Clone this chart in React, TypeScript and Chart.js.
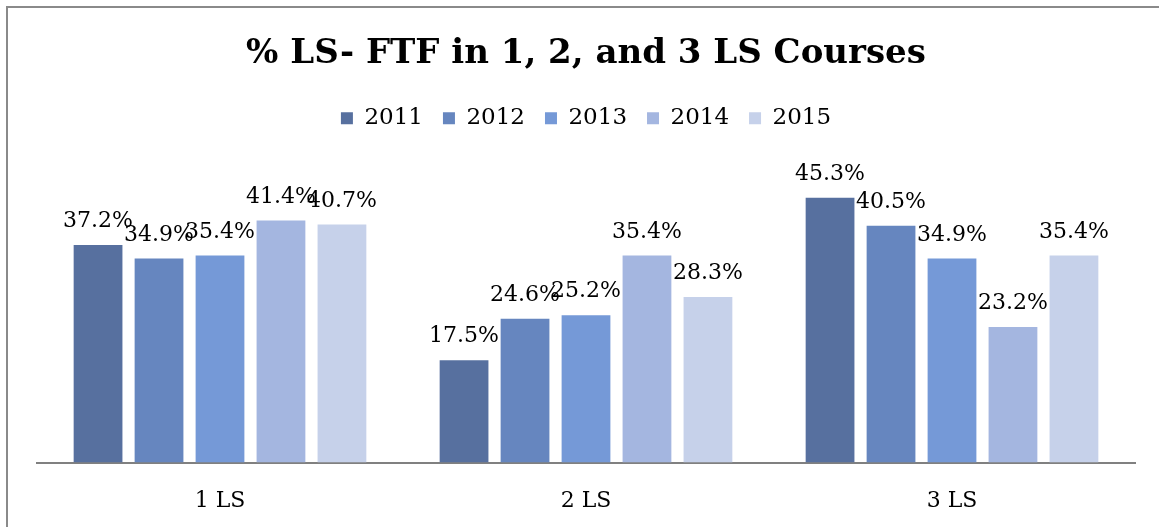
import React, { useEffect, useRef } from "react";
import { Chart, registerables } from "chart.js";

Chart.register(...registerables);

const categories = ["1 LS", "2 LS", "3 LS"];
const years = ["2011", "2012", "2013", "2014", "2015"];
const values2011 = [37.2, 17.5, 45.3];
const values2012 = [34.9, 24.6, 40.5];
const values2013 = [35.4, 25.2, 34.9];
const values2014 = [41.4, 35.4, 23.2];
const values2015 = [40.7, 28.3, 35.4];
const seriesValues = [values2011, values2012, values2013, values2014, values2015];
const colors = ["#57709f", "#6686bf", "#7599d7", "#a4b6e0", "#c6d1ea"];

const FONT = "'DejaVu Serif', serif";

const borderPlugin = {
  id: "frameBorder",
  beforeDraw(chart: any) {
    const { ctx } = chart;
    ctx.save();
    ctx.strokeStyle = "#8a8a8a";
    ctx.lineWidth = 2;
    ctx.strokeRect(7, 7, 3000, 3000);
    ctx.restore();
  },
};

const labelPlugin = {
  id: "barValueLabels",
  afterDatasetsDraw(chart: any) {
    const { ctx } = chart;
    ctx.save();
    ctx.font = `22px ${FONT}`;
    ctx.fillStyle = "#000";
    ctx.textAlign = "center";
    ctx.textBaseline = "alphabetic";
    chart.data.datasets.forEach((ds: any, i: number) => {
      const meta = chart.getDatasetMeta(i);
      meta.data.forEach((el: any, j: number) => {
        const v = ds.data[j];
        ctx.fillText(v.toFixed(1) + "%", el.x, el.y - 18);
      });
    });
    ctx.restore();
  },
};

export default function App() {
  const ref = useRef<HTMLCanvasElement>(null);
  useEffect(() => {
    if (!ref.current) return;
    const chart = new Chart(ref.current, {
      type: "bar",
      data: {
        labels: categories,
        datasets: years.map((y, i) => ({
          label: y,
          data: seriesValues[i],
          backgroundColor: colors[i],
          borderWidth: 0,
          barPercentage: 0.8,
          categoryPercentage: 0.833,
        })),
      },
      options: {
        responsive: false,
        animation: false,
        layout: { padding: { left: 37, right: 24, top: 0, bottom: -12 } },
        plugins: {
          title: {
            display: true,
            text: "% LS- FTF in 1, 2, and 3 LS Courses",
            color: "#000",
            font: { family: FONT, size: 34, weight: "bold" },
            padding: { top: 34, bottom: 12 },
          },
          legend: {
            display: true,
            position: "top",
            labels: {
              color: "#000",
              font: { family: FONT, size: 23 },
              boxWidth: 12,
              boxHeight: 12,
              padding: 20,
            },
          },
          tooltip: { enabled: false },
        },
        scales: {
          x: {
            grid: { display: false, drawTicks: false },
            border: { display: true, color: "#808080", width: 2 },
            ticks: { color: "#000", font: { family: FONT, size: 22 }, padding: 25 },
          },
          y: {
            display: false,
            min: 0,
            max: 55.2,
          },
        },
      },
      plugins: [borderPlugin, labelPlugin],
    });
    return () => chart.destroy();
  }, []);
  return (
    <div style={{ position: "fixed", left: 0, top: 0, width: 1159, height: 527, background: "#fff" }}>
      <canvas ref={ref} width={1159} height={527} />
    </div>
  );
}
